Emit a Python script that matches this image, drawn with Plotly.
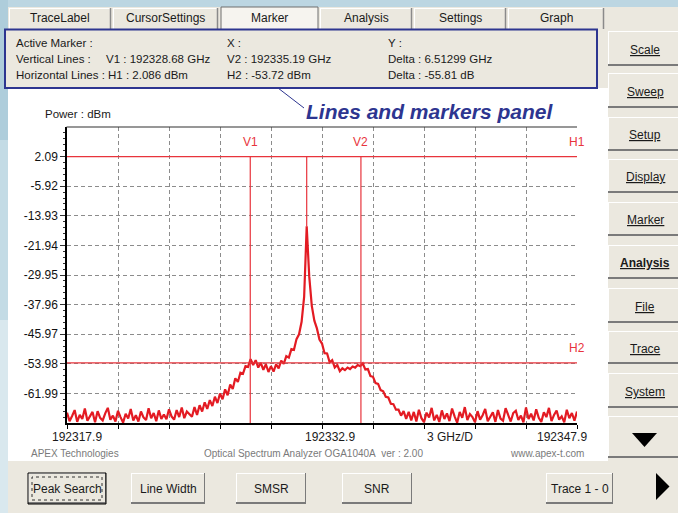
import plotly.graph_objects as go

# ---------------- data ----------------
FREQ_START = 192317.9      # GHz
FREQ_STOP = 192347.9       # GHz
FREQ_STEP = 0.15           # GHz sample spacing of the trace
GHZ_PER_DIV = 3

floor_left = [-67.2, -69.5, -68.1, -66.5, -69.7, -67.8, -68.9, -66.1, -69.4, -68.3,
              -67.0, -69.8, -66.8, -68.6, -69.3, -67.4, -65.9, -69.1, -68.0, -69.6,
              -66.7, -68.4, -69.9, -67.5, -68.8, -66.2, -69.3, -67.9, -69.6, -66.9,
              -68.5, -69.2, -66.0, -68.7, -67.3, -69.5, -66.6, -68.9, -67.7, -69.0,
              -66.3, -68.2, -69.1, -66.5, -68.4, -65.8, -68.7, -66.9, -67.6, -68.3]
rise = [-65.7, -67.8, -65.2, -66.9, -64.4, -66.2, -63.8, -65.4, -62.9, -64.6, -62.0,
        -63.6, -60.9, -62.5, -59.6, -60.8, -57.9, -58.9, -56.4, -56.7, -54.6, -54.8]
shoulder = [-52.7, -54.3, -53.0, -55.0, -53.7, -55.6, -54.1, -56.2, -54.6, -56.1,
            -54.1, -55.2, -53.1, -54.0, -51.9, -52.3, -50.0, -50.2]
peak = [-47.3, -46.0, -42.6, -35.8, -16.8, -30.4, -38.3, -42.3, -44.4, -47.4]
fall = [-48.5, -51.1, -51.2, -53.6, -53.0, -55.0, -54.3, -56.0, -55.2, -55.7,
        -55.0, -55.4, -54.7, -55.0, -54.3, -54.6, -53.9, -55.5, -55.4, -57.3,
        -57.5, -59.2, -59.4, -61.1, -61.4, -62.9, -63.1, -64.8, -64.9, -66.4,
        -66.4, -68.0, -66.8, -68.9, -67.0, -69.3]
floor_right = [-67.0, -69.6, -66.4, -68.7, -69.8, -67.2, -68.5, -65.9, -69.3, -67.8,
               -69.7, -66.6, -68.9, -67.4, -69.5, -66.1, -68.2, -69.9, -67.0, -68.6,
               -65.7, -69.2, -67.6, -68.4, -69.8, -66.8, -69.1, -67.9, -66.2, -69.5,
               -68.3, -67.1, -69.7, -66.5, -68.8, -69.4, -66.0, -68.1, -69.6, -67.3,
               -66.7, -69.2, -68.0, -69.8, -65.8, -68.9, -67.5, -69.3, -66.3, -68.6,
               -69.7, -67.1, -68.4, -65.9, -69.5, -67.8, -66.6, -69.1, -68.2, -69.8,
               -66.4, -68.7, -67.3, -69.4, -66.9]

power = floor_left + rise + shoulder + peak + fall + floor_right
freq = [FREQ_START + FREQ_STEP * i for i in range(len(power))]

y_ticks = [2.09, -5.92, -13.93, -21.94, -29.95, -37.96, -45.97, -53.98, -61.99]
Y_MIN, Y_MAX = -70.00, 10.10
x_grid = [FREQ_START + GHZ_PER_DIV * i for i in range(11)]

V1, V2 = 192328.68, 192335.19
H1, H2 = 2.086, -53.72

tabs = ["TraceLabel", "CursorSettings", "Marker", "Analysis", "Settings", "Graph"]
side_buttons = ["Scale", "Sweep", "Setup", "Display", "Marker", "Analysis", "File", "Trace", "System"]
bottom_buttons = ["Peak Search", "Line Width", "SMSR", "SNR", "Trace 1 - 0"]

info_rows = [
    ["Active Marker :", "", "X :", "Y :"],
    ["Vertical Lines :", "V1 : 192328.68 GHz", "V2 : 192335.19 GHz", "Delta : 6.51299 GHz"],
    ["Horizontal Lines : H1 : 2.086 dBm", "", "H2 : -53.72 dBm", "Delta : -55.81 dB"],
]

# ---------------- layout helpers (pixel -> paper) ----------------
W, H = 678, 513
ML, MT, PW, PH = 67, 127, 510, 296
FONT = "Liberation Sans, Arial, sans-serif"
BEIGE = "#ebe8df"
RED_LINE = "#e8343c"
RED_TRACE = "#e31b23"
NAVY = "#2d3590"


def X(px):
    return (px - ML) / PW


def Y(py):
    return 1 - (py - MT) / PH


shapes = []
annotations = []


def rect(x0, y0, x1, y1, fill=None, line=None, lw=1, dash="solid", layer="below"):
    shapes.append(dict(type="rect", xref="paper", yref="paper",
                       x0=X(x0), x1=X(x1), y0=Y(y1), y1=Y(y0),
                       fillcolor=fill if fill else "rgba(0,0,0,0)",
                       line=dict(color=line if line else "rgba(0,0,0,0)", width=lw if line else 0, dash=dash),
                       layer=layer))


def seg(x0, y0, x1, y1, color, lw=1, layer="below", dash="solid"):
    shapes.append(dict(type="line", xref="paper", yref="paper",
                       x0=X(x0), x1=X(x1), y0=Y(y0), y1=Y(y1),
                       line=dict(color=color, width=lw, dash=dash), layer=layer))


def text(t, x, y, size=12, color="#1a1a1a", xanchor="left", bold=False, italic=False):
    if bold:
        t = "<b>" + t + "</b>"
    if italic:
        t = "<i>" + t + "</i>"
    annotations.append(dict(text=t, xref="paper", yref="paper", x=X(x), y=Y(y),
                            xanchor=xanchor, yanchor="middle", showarrow=False,
                            font=dict(family=FONT, size=size, color=color)))


def button(x0, y0, x1, y1):
    rect(x0, y0, x1, y1, fill=BEIGE)
    seg(x0, y0 + 0.5, x1, y0 + 0.5, "#ffffff", 1)
    seg(x0 + 0.5, y0, x0 + 0.5, y1, "#ffffff", 1)
    seg(x0, y1 - 1, x1, y1 - 1, "#7a7a7a", 2)
    seg(x1 - 0.5, y0, x1 - 0.5, y1, "#7a7a7a", 1)


# ---------------- background / chrome ----------------
rect(0, 0, W, 7, fill="#bcd6e2")
rect(0, 0, 8, 140, fill="#aecddb")
rect(0, 140, 8, 320, fill="#c3dbe5")
rect(0, 320, 8, H, fill="#d9e8ee")
rect(8, 88, 608, 461, fill="#ffffff")

# tabs
tab_edges = [(9, 111), (113, 218), (221, 318), (320, 412), (414, 506), (508, 604)]
for name, (a, b) in zip(tabs, tab_edges):
    if name == "Marker":
        rect(a, 7, b, 30, fill="#f6f4ef", line="#6e6e6e", lw=1)
    else:
        rect(a, 8, b, 29, fill=BEIGE)
        seg(a + 0.5, 8, a + 0.5, 29, "#ffffff", 1)
        seg(a, 8.5, b, 8.5, "#ffffff", 1)
        seg(b - 0.5, 8, b - 0.5, 29, "#8a8a8a", 1.5)
    text(name, (a + b) / 2, 18, size=12, xanchor="center")

# info panel
rect(5, 29.5, 597, 88, fill=BEIGE, line=NAVY, lw=2)
col_x = [14, 104, 225, 386]
row_y = [43, 59, 75]
for r, row in enumerate(info_rows):
    for c, t in enumerate(row):
        if t:
            text(t, col_x[c], row_y[r], size=11.5)

# side buttons
side_y = [(31, 66), (73, 108), (117, 151), (159, 193), (202, 236),
          (245, 279), (288, 323), (331, 364), (373, 408)]
for name, (a, b) in zip(side_buttons, side_y):
    button(608, a, 690, b)
    text("<u>" + name + "</u>", 645, (a + b) / 2 + 1, size=12, xanchor="center",
         bold=(name == "Analysis"))
button(608, 416, 690, 458)
shapes.append(dict(type="path", xref="paper", yref="paper",
                   path="M {} {} L {} {} L {} {} Z".format(X(632), Y(433), X(657), Y(433), X(644.5), Y(447)),
                   fillcolor="#000000", line=dict(width=0), layer="below"))

# bottom bar buttons
bottom_x = [(28, 106), (131, 205), (236, 306), (342, 412), (546, 613)]
for name, (a, b) in zip(bottom_buttons, bottom_x):
    button(a, 473, b, 504)
    text(name, (a + b) / 2, 489, size=12, xanchor="center")
rect(28, 473, 106, 504, line="#000000", lw=1)
rect(32, 477, 102, 500, line="#333333", lw=1, dash="dot")
shapes.append(dict(type="path", xref="paper", yref="paper",
                   path="M {} {} L {} {} L {} {} Z".format(X(656), Y(473), X(669.5), Y(486.5), X(656), Y(500)),
                   fillcolor="#000000", line=dict(width=0), layer="below"))

# callout
text("Lines and markers panel", 304, 111, size=21, color=NAVY, bold=True, italic=True)
seg(278, 88, 304, 108, NAVY, 1, layer="above")

# chart texts
text("Power : dBm", 43, 114, size=11.5)
text("192317.9", 77, 437, size=12, xanchor="center")
text("192332.9", 330, 437, size=12, xanchor="center")
text("3 GHz/D", 425, 437, size=12)
text("192347.9", 562, 437, size=12, xanchor="center")
text("APEX Technologies", 29, 453, size=10, color="#7a7a7a")
text("Optical Spectrum Analyzer OGA1040A\u00a0\u00a0ver : 2.00", 202, 453, size=10, color="#7a7a7a")
text("www.apex-t.com", 586, 453, size=10, color="#7a7a7a", xanchor="right")

# top border (solid)
seg(66.5, 127, 577, 127, "#303030", 1.2, layer="above")

# ---------------- marker lines (data coordinates) ----------------
pk_i = max(range(len(power)), key=lambda i: power[i])
for yv in (H1, H2):
    shapes.append(dict(type="line", xref="x", yref="y", x0=FREQ_START, x1=FREQ_STOP,
                       y0=yv, y1=yv, line=dict(color=RED_LINE, width=1.2), layer="above"))
for xv in (V1, V2):
    shapes.append(dict(type="line", xref="x", yref="y", x0=xv, x1=xv,
                       y0=H1, y1=Y_MIN, line=dict(color=RED_LINE, width=1.2), layer="above"))
shapes.append(dict(type="line", xref="x", yref="y", x0=freq[pk_i], x1=freq[pk_i],
                   y0=H1, y1=power[pk_i], line=dict(color=RED_LINE, width=1.2), layer="above"))

for lbl, xv in (("V1", V1), ("V2", V2)):
    annotations.append(dict(text=lbl, xref="x", yref="paper", x=xv, y=Y(142), showarrow=False,
                            xanchor="center", yanchor="middle",
                            font=dict(family=FONT, size=12, color=RED_LINE)))
for lbl, yv in (("H1", H1), ("H2", H2)):
    annotations.append(dict(text=lbl, xref="x", yref="y", x=FREQ_STOP, y=yv, yshift=15,
                            showarrow=False, xanchor="center", yanchor="middle",
                            font=dict(family=FONT, size=12, color=RED_LINE)))

# ---------------- figure ----------------
fig = go.Figure()
fig.add_trace(go.Scatter(x=freq, y=power, mode="lines",
                         line=dict(color=RED_TRACE, width=2.2), hoverinfo="skip",
                         showlegend=False))

minor_vals = []
for t in y_ticks + [Y_MIN]:
    for k in range(1, 5):
        minor_vals.append(t + k * (y_ticks[0] - y_ticks[1]) / 5)

fig.update_layout(
    width=W, height=H,
    margin=dict(l=ML, r=W - ML - PW, t=MT, b=H - MT - PH, pad=0),
    paper_bgcolor=BEIGE, plot_bgcolor="#ffffff",
    font=dict(family=FONT, color="#1a1a1a"),
    showlegend=False,
    shapes=shapes, annotations=annotations,
    xaxis=dict(range=[FREQ_START, FREQ_STOP], tickmode="array", tickvals=x_grid,
               showticklabels=False, ticks="outside", ticklen=4, tickcolor="#000000",
               showgrid=True, gridcolor="#8c8c8c", griddash="4px,3px", gridwidth=1,
               showline=True, linecolor="#000000", linewidth=1.5, zeroline=False, fixedrange=True),
    yaxis=dict(range=[Y_MIN, Y_MAX], tickmode="array", tickvals=y_ticks,
               ticktext=["%.2f" % v for v in y_ticks],
               ticks="outside", ticklen=5, tickcolor="#333333",
               tickfont=dict(family=FONT, size=12, color="#111111"),
               minor=dict(tickvals=minor_vals, ticks="outside", ticklen=2, tickcolor="#333333", showgrid=False),
               showgrid=True, gridcolor="#8c8c8c", griddash="4px,3px", gridwidth=1,
               showline=True, linecolor="#000000", linewidth=1.5, zeroline=False, fixedrange=True),
)

fig.write_html("out.html", config={"displayModeBar": False},
               post_script="document.body.style.margin='0';document.body.style.overflow='hidden';")
